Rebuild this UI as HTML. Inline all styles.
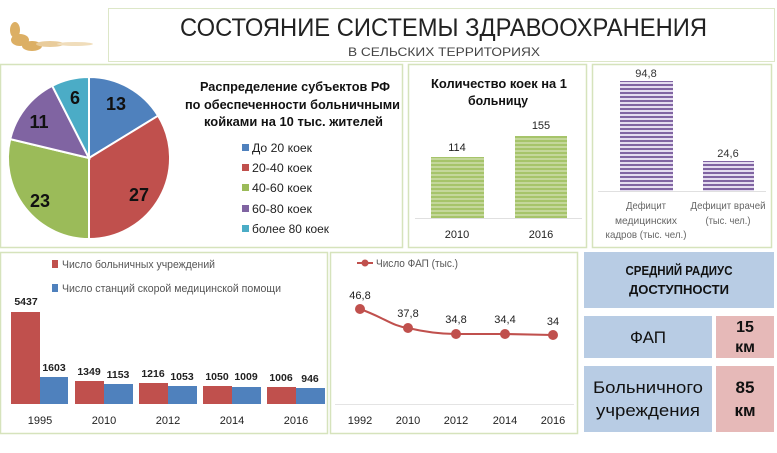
<!DOCTYPE html>
<html><head><meta charset="utf-8"><style>
body{margin:0;background:#fff;}
svg{display:block;font-family:"Liberation Sans Narrow","Liberation Sans",sans-serif;}
</style></head><body>
<svg width="777" height="453" viewBox="0 0 777 453" xmlns="http://www.w3.org/2000/svg">
<defs>
<pattern id="gs" width="4" height="4" patternUnits="userSpaceOnUse"><rect width="4" height="4" fill="#c4d79b"/><rect width="4" height="2" fill="#a6c46a"/></pattern>
<pattern id="ps" width="4" height="4" patternUnits="userSpaceOnUse"><rect width="4" height="4" fill="#e4dcef"/><rect width="4" height="2" fill="#8064a2"/></pattern>
</defs>
<rect width="777" height="453" fill="#fff"/>
<g fill="#d7a24a" opacity="0.85">
<ellipse cx="20" cy="40" rx="9" ry="6"/><ellipse cx="32" cy="46" rx="10" ry="5"/><ellipse cx="15" cy="30" rx="5" ry="8"/>
<ellipse cx="50" cy="44" rx="14" ry="3" fill="#e6c48a"/><ellipse cx="75" cy="44" rx="18" ry="2" fill="#eed8b0"/>
</g>
<rect x="108.5" y="8.5" width="666" height="53" fill="#fff" stroke="#dde7c8"/>
<text x="180" y="36" font-size="25" fill="#222" textLength="527" lengthAdjust="spacingAndGlyphs">СОСТОЯНИЕ СИСТЕМЫ ЗДРАВООХРАНЕНИЯ</text>
<text x="348" y="56" font-size="12" fill="#444" textLength="192" lengthAdjust="spacingAndGlyphs">В СЕЛЬСКИХ ТЕРРИТОРИЯХ</text>
<rect x="0.5" y="64.5" width="402" height="183" fill="none" stroke="#d6e3bc" stroke-width="1.5"/>
<rect x="408.5" y="64.5" width="178" height="183" fill="none" stroke="#d6e3bc" stroke-width="1.5"/>
<rect x="592.5" y="64.5" width="179" height="183" fill="none" stroke="#d6e3bc" stroke-width="1.5"/>
<rect x="0.5" y="252.5" width="327" height="181" fill="none" stroke="#d6e3bc" stroke-width="1.5"/>
<rect x="330.5" y="252.5" width="247" height="181" fill="none" stroke="#d6e3bc" stroke-width="1.5"/>
<g stroke="#fff" stroke-width="2">
<path d="M89 158 L89 77 A81 81 0 0 1 158.1 115.7 Z" fill="#4f81bd"/>
<path d="M89 158 L158.1 115.7 A81 81 0 0 1 89 239 Z" fill="#c0504d"/>
<path d="M89 158 L89 239 A81 81 0 0 1 10.2 139.1 Z" fill="#9bbb59"/>
<path d="M89 158 L10.2 139.1 A81 81 0 0 1 52.2 85.8 Z" fill="#8064a2"/>
<path d="M89 158 L52.2 85.8 A81 81 0 0 1 89 77 Z" fill="#4bacc6"/>
</g>
<g font-size="18" font-weight="bold" fill="#111" text-anchor="middle">
<text x="116" y="110">13</text><text x="139" y="201">27</text><text x="40" y="207">23</text><text x="39" y="128">11</text><text x="75" y="104">6</text>
</g>
<g font-size="13" font-weight="bold" fill="#111">
<text x="200" y="91" textLength="190" lengthAdjust="spacingAndGlyphs">Распределение субъектов РФ</text>
<text x="185" y="109" textLength="215" lengthAdjust="spacingAndGlyphs">по обеспеченности больничными</text>
<text x="204" y="126" textLength="179" lengthAdjust="spacingAndGlyphs">койками на 10 тыс. жителей</text>
</g>
<g font-size="12" fill="#222">
<rect x="242" y="144" width="7" height="7" fill="#4f81bd"/><text x="252" y="152" textLength="60" lengthAdjust="spacingAndGlyphs">До 20 коек</text>
<rect x="242" y="164" width="7" height="7" fill="#c0504d"/><text x="252" y="172" textLength="60" lengthAdjust="spacingAndGlyphs">20-40 коек</text>
<rect x="242" y="184" width="7" height="7" fill="#9bbb59"/><text x="252" y="192" textLength="60" lengthAdjust="spacingAndGlyphs">40-60 коек</text>
<rect x="242" y="205" width="7" height="7" fill="#8064a2"/><text x="252" y="213" textLength="60" lengthAdjust="spacingAndGlyphs">60-80 коек</text>
<rect x="242" y="225" width="7" height="7" fill="#4bacc6"/><text x="252" y="233" textLength="77" lengthAdjust="spacingAndGlyphs">более 80 коек</text>
</g>
<g font-size="13" font-weight="bold" fill="#111">
<text x="431" y="88" textLength="136" lengthAdjust="spacingAndGlyphs">Количество коек на 1</text><text x="468" y="105" textLength="60" lengthAdjust="spacingAndGlyphs">больницу</text>
</g>
<rect x="431" y="157" width="53" height="61" fill="url(#gs)"/>
<rect x="515" y="136" width="52" height="82" fill="url(#gs)"/>
<line x1="415" y1="218.5" x2="582" y2="218.5" stroke="#e0e0e0"/>
<g font-size="11" fill="#222" text-anchor="middle">
<text x="457" y="151">114</text><text x="541" y="129">155</text>
<text x="457" y="238">2010</text><text x="541" y="238">2016</text>
</g>
<rect x="620" y="81" width="53" height="110" fill="url(#ps)"/>
<rect x="703" y="161" width="51" height="30" fill="url(#ps)"/>
<line x1="598" y1="191.5" x2="766" y2="191.5" stroke="#e0e0e0"/>
<g font-size="11" fill="#333" text-anchor="middle">
<text x="646" y="77">94,8</text><text x="728" y="157">24,6</text>
</g>
<g font-size="10.5" fill="#666" text-anchor="middle">
<text x="646" y="209" textLength="40" lengthAdjust="spacingAndGlyphs">Дефицит</text><text x="646" y="224" textLength="62" lengthAdjust="spacingAndGlyphs">медицинских</text><text x="646" y="238" textLength="81" lengthAdjust="spacingAndGlyphs">кадров (тыс. чел.)</text>
<text x="728" y="209" textLength="75" lengthAdjust="spacingAndGlyphs">Дефицит врачей</text><text x="728" y="224" textLength="45" lengthAdjust="spacingAndGlyphs">(тыс. чел.)</text>
</g>
<g font-size="11" fill="#555">
<rect x="52" y="260" width="6" height="8" fill="#c0504d"/><text x="62" y="268" textLength="153" lengthAdjust="spacingAndGlyphs">Число больничных учреждений</text>
<rect x="52" y="284" width="6" height="8" fill="#4f81bd"/><text x="62" y="292" textLength="219" lengthAdjust="spacingAndGlyphs">Число станций скорой медицинской помощи</text>
</g>
<g>
<rect x="11" y="312" width="29" height="92" fill="#c0504d"/><rect x="40" y="377" width="28" height="27" fill="#4f81bd"/>
<rect x="75" y="381" width="29" height="23" fill="#c0504d"/><rect x="104" y="384" width="29" height="20" fill="#4f81bd"/>
<rect x="139" y="383" width="29" height="21" fill="#c0504d"/><rect x="168" y="386" width="29" height="18" fill="#4f81bd"/>
<rect x="203" y="386" width="29" height="18" fill="#c0504d"/><rect x="232" y="387" width="29" height="17" fill="#4f81bd"/>
<rect x="267" y="387" width="29" height="17" fill="#c0504d"/><rect x="296" y="388" width="29" height="16" fill="#4f81bd"/>
</g>
<g font-size="10.5" font-weight="bold" fill="#222" text-anchor="middle">
<text x="26" y="305">5437</text><text x="54" y="371">1603</text>
<text x="89" y="375">1349</text><text x="118" y="378">1153</text>
<text x="153" y="377">1216</text><text x="182" y="380">1053</text>
<text x="217" y="380">1050</text><text x="246" y="380">1009</text>
<text x="281" y="381">1006</text><text x="310" y="382">946</text>
</g>
<g font-size="11" fill="#222" text-anchor="middle">
<text x="40" y="424">1995</text><text x="104" y="424">2010</text><text x="168" y="424">2012</text><text x="232" y="424">2014</text><text x="296" y="424">2016</text>
</g>
<line x1="357" y1="263" x2="373" y2="263" stroke="#c0504d" stroke-width="2"/><circle cx="365" cy="263" r="3.5" fill="#c0504d"/>
<text x="376" y="267" font-size="11" fill="#555" textLength="82" lengthAdjust="spacingAndGlyphs">Число ФАП (тыс.)</text>
<line x1="335" y1="404.5" x2="574" y2="404.5" stroke="#e4e4e4"/>
<path d="M360 309 C385 318 392 326 408 328 C425 332 440 334 456 334 L505 334 L553 335" fill="none" stroke="#c0504d" stroke-width="2"/>
<g fill="#c0504d"><circle cx="360" cy="309" r="5"/><circle cx="408" cy="328" r="5"/><circle cx="456" cy="334" r="5"/><circle cx="505" cy="334" r="5"/><circle cx="553" cy="335" r="5"/></g>
<g font-size="11" fill="#222" text-anchor="middle">
<text x="360" y="299">46,8</text><text x="408" y="317">37,8</text><text x="456" y="323">34,8</text><text x="505" y="323">34,4</text><text x="553" y="325">34</text>
<text x="360" y="424">1992</text><text x="408" y="424">2010</text><text x="456" y="424">2012</text><text x="505" y="424">2014</text><text x="553" y="424">2016</text>
</g>
<rect x="584" y="252" width="190" height="56" fill="#b8cce4"/>
<text x="679" y="275" font-size="13" font-weight="bold" text-anchor="middle" fill="#111" textLength="107" lengthAdjust="spacingAndGlyphs">СРЕДНИЙ РАДИУС</text>
<text x="679" y="294" font-size="13" font-weight="bold" text-anchor="middle" fill="#111" textLength="100" lengthAdjust="spacingAndGlyphs">ДОСТУПНОСТИ</text>
<rect x="584" y="316" width="128" height="42" fill="#b8cce4"/>
<rect x="716" y="316" width="58" height="42" fill="#e6b9b8"/>
<text x="648" y="343" font-size="17" text-anchor="middle" fill="#111">ФАП</text>
<text x="745" y="332" font-size="16" font-weight="bold" text-anchor="middle" fill="#111">15</text>
<text x="745" y="352" font-size="16" font-weight="bold" text-anchor="middle" fill="#111">км</text>
<rect x="584" y="366" width="128" height="66" fill="#b8cce4"/>
<rect x="716" y="366" width="58" height="66" fill="#e6b9b8"/>
<text x="648" y="393" font-size="17" text-anchor="middle" fill="#111" textLength="110" lengthAdjust="spacingAndGlyphs">Больничного</text>
<text x="648" y="416" font-size="17" text-anchor="middle" fill="#111" textLength="104" lengthAdjust="spacingAndGlyphs">учреждения</text>
<text x="745" y="393" font-size="17" font-weight="bold" text-anchor="middle" fill="#111">85</text>
<text x="745" y="416" font-size="17" font-weight="bold" text-anchor="middle" fill="#111">км</text>
</svg>
</body></html>
